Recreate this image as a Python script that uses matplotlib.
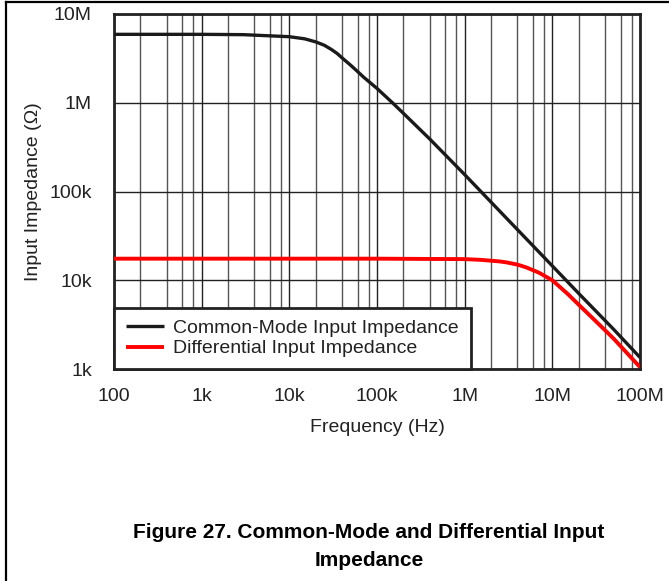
import matplotlib
matplotlib.use("Agg")
import matplotlib.pyplot as plt
from matplotlib.ticker import FixedLocator, NullFormatter
from matplotlib.lines import Line2D

plt.rcParams['font.family'] = ['Liberation Sans', 'DejaVu Sans']

# Common-mode input impedance
cm_freq = [100, 1e3, 3e3, 10e3, 15e3, 20e3, 25e3, 30e3, 35e3, 40e3, 50e3, 60e3, 70e3,
           100e3, 150e3, 200e3, 400e3, 1e6, 3e6, 10e6, 20e6, 50e6, 100e6]
cm_imp = [5.9e6, 5.9e6, 5.85e6, 5.55e6, 5.25e6, 4.85e6, 4.45e6, 4.0e6, 3.6e6, 3.2e6,
          2.65e6, 2.25e6, 1.95e6, 1.45e6, 1.0e6, 7.6e5, 3.9e5, 1.55e5, 5.0e4,
          1.45e4, 7.1e3, 2.8e3, 1.35e3]

# Differential input impedance
dm_freq = [100, 1e3, 10e3, 100e3, 1e6, 1.5e6, 2e6, 2.5e6, 3e6, 4e6, 5e6, 7e6, 10e6,
           15e6, 20e6, 30e6, 50e6, 100e6]
dm_imp = [17.5e3, 17.5e3, 17.5e3, 17.5e3, 17.3e3, 17.0e3, 16.6e3, 16.3e3, 15.9e3,
          15.0e3, 14.0e3, 12.2e3, 10.0e3, 7.0e3, 5.3e3, 3.6e3, 2.2e3, 1.05e3]

x_ticks = [1e2, 1e3, 1e4, 1e5, 1e6, 1e7, 1e8]
x_labels = ['100', '1k', '10k', '100k', '1M', '10M', '100M']
y_ticks = [1e3, 1e4, 1e5, 1e6, 1e7]
y_labels = ['1k', '10k', '100k', '1M', '10M']
minor_x = [m * d for d in [1e2, 1e3, 1e4, 1e5, 1e6, 1e7] for m in (2, 4, 6, 8)]

W, H = 669, 581
fig = plt.figure(figsize=(W / 100, H / 100), dpi=100)

# figure frame
fig.add_artist(Line2D([6 / W, 6 / W], [0, 1 - 2 / H], color='black', lw=1.6,
                      transform=fig.transFigure))
fig.add_artist(Line2D([6 / W, 1], [1 - 2 / H, 1 - 2 / H], color='black', lw=1.6,
                      transform=fig.transFigure))

ax = fig.add_axes([114 / W, 1 - 369 / H, (640 - 114) / W, (369 - 14) / H])
ax.set_xscale('log')
ax.set_yscale('log')
ax.set_xlim(1e2, 1e8)
ax.set_ylim(1e3, 1e7)

ax.xaxis.set_major_locator(FixedLocator(x_ticks))
ax.xaxis.set_minor_locator(FixedLocator(minor_x))
ax.xaxis.set_minor_formatter(NullFormatter())
ax.yaxis.set_major_locator(FixedLocator(y_ticks))
ax.yaxis.set_minor_locator(FixedLocator([]))
ax.set_xticklabels(x_labels)
ax.set_yticklabels(y_labels)

ax.grid(which='major', axis='both', color='#222222', lw=1.0)
ax.grid(which='minor', axis='x', color='#555555', lw=1.0)
ax.set_axisbelow(True)

FS = 14
ax.tick_params(which='both', length=0)
ax.tick_params(axis='x', labelsize=FS, pad=14, colors='#222222')
ax.tick_params(axis='y', labelsize=FS, pad=16, colors='#222222')
for s in ax.spines.values():
    s.set_linewidth(2.0)
    s.set_color('#222222')

ax.plot(cm_freq, cm_imp, color='#1a1a1a', lw=2.4, label='Common-Mode Input Impedance',
        solid_capstyle='butt', zorder=3)
ax.plot(dm_freq, dm_imp, color='#ff0000', lw=2.8, label='Differential Input Impedance',
        solid_capstyle='butt', zorder=3)

ax.set_xlabel('Frequency (Hz)', fontsize=FS, labelpad=10, color='#222222')
ax.set_ylabel('Input Impedance (\u03a9)', fontsize=FS, labelpad=5, color='#222222')

leg = ax.legend(loc='lower left', bbox_to_anchor=(0, 0), borderaxespad=0,
                fancybox=False, framealpha=1, edgecolor='#222222', fontsize=FS,
                handlelength=1.95, handletextpad=0.5, borderpad=0.6,
                labelspacing=0.15)
leg.get_frame().set_linewidth(2.0)
leg.set_zorder(5)
for t in leg.get_texts():
    t.set_color('#222222')

fig.text(369 / W, 1 - 533 / H, 'Figure 27. Common-Mode and Differential Input',
         ha='center', va='center', fontsize=15, fontweight='bold')
fig.text(369 / W, 1 - 560 / H, 'Impedance', ha='center', va='center', fontsize=15,
         fontweight='bold')

fig.savefig('out.png', dpi=100)
